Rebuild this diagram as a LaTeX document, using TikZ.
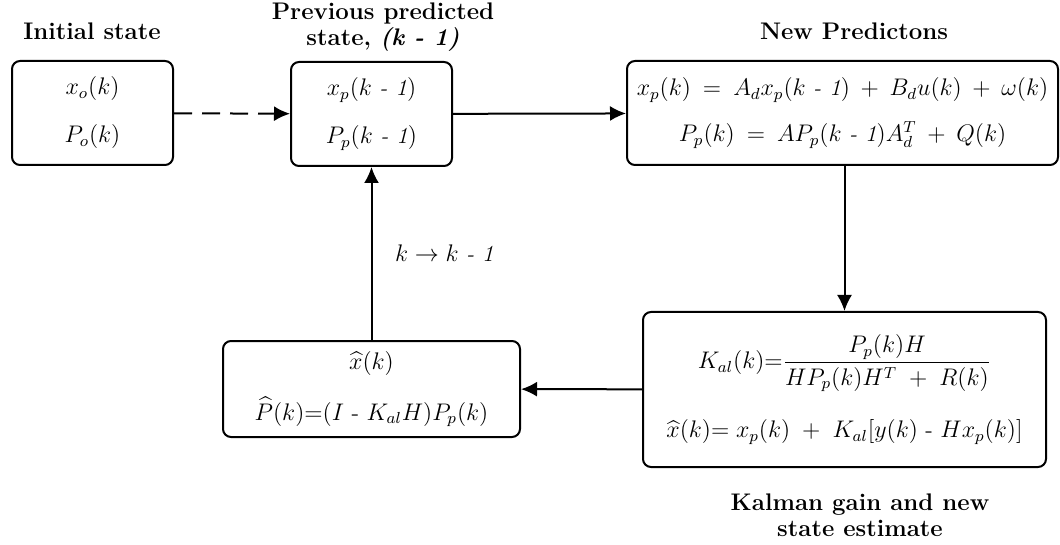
\documentclass[tikz,border=0pt]{standalone}
\usepackage{amsmath,amssymb}
\usepackage{xcolor}
\usepackage{tikz}
\usetikzlibrary{arrows.meta,positioning,calc}

\begin{document}
\begin{tikzpicture}[x=0.5pt,y=-0.5pt,>=Latex,
    box/.style={draw,line width=1pt,rounded corners=4pt,align=center,inner sep=2pt,font=\fontsize{11.5}{14}\selectfont},
    flow/.style={->,line width=1pt,>={Latex[length=8pt,width=7.5pt]}},
    title/.style={align=center,font=\fontsize{12}{13}\selectfont\bfseries,inner sep=0pt}]
    \useasboundingbox (0,0) rectangle (1060,545);

    % state boxes
    \node[box,minimum width=80.5pt,minimum height=52pt] (init) at (92.5,113) {$x_o(k)$\\[10pt] $P_o(k)$};
    \node[box,minimum width=80.5pt,minimum height=52pt] (prev) at (371.5,114) {$x_p(k$ \textit{- 1}$)$\\[10pt] $P_p(k$ \textit{- 1}$)$};
    \node[box,minimum width=215.5pt,minimum height=52pt] (pred) at (842.5,113) {$x_p(k)\:=\:A_dx_p(k$ \textit{- 1}$)\:+\:B_du(k)\:+\:\omega(k)$\\[9pt] $P_p(k)\:=\:AP_p(k$ \textit{- 1}$)A_d^T\:+\:Q(k)$};
    \node[box,minimum width=201.5pt,minimum height=77.5pt] (gain) at (844.5,389.5) {$K_{al}(k){=}\dfrac{P_p(k)H}{HP_p(k)H^T\;+\;R(k)}$\\[13pt] $\widehat{x}(k){=}\;x_p(k)\;+\;K_{al}[y(k)$ - $Hx_p(k)]$};
    \node[box,minimum width=148.5pt,minimum height=48pt] (est) at (371.5,389) {$\widehat{x}(k)$\\[10pt] $\widehat{P}(k){=}(I$ - $K_{al}H)P_p(k)$};

    % titles
    \node[title] (tinit) at (92,31) {Initial state};
    \node[title] (tprev) at (383,27) {Previous predicted\\state, \textit{(k - 1)}};
    \node[title] (tpred) at (854,31) {New Predictons};
    \node[title] (tgain) at (860,515) {Kalman gain and new\\state estimate};

    % connectors
    \draw[flow,dashed,dash pattern=on 9pt off 5pt] (init) -- (prev);
    \draw[flow] (prev) -- (pred);
    \draw[flow] (pred.south -| gain.north) -- (gain.north);
    \draw[flow] (gain) -- (est);
    \draw[flow] (est) -- node[right=8pt,font=\fontsize{11.5}{14}\selectfont] {$k\rightarrow k$ \textit{- 1}} (prev);
\end{tikzpicture}
\end{document}
